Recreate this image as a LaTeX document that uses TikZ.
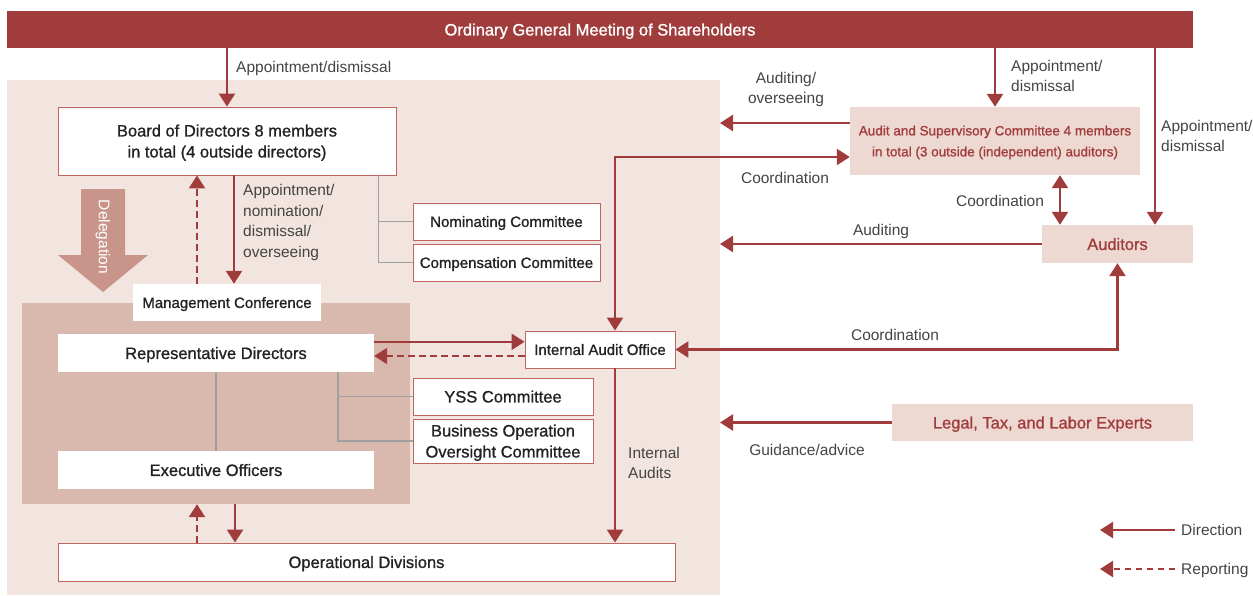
\documentclass[tikz,border=0pt]{standalone}
\usepackage{fontspec}
\setmainfont{Liberation Sans}
\newfontfamily\medfam[FakeBold=1.0]{Liberation Sans}
\usetikzlibrary{arrows.meta,calc}
\definecolor{dred}{HTML}{A03C3C}
\definecolor{bgpink}{HTML}{F2E4DF}
\definecolor{mgmtc}{HTML}{D9B9AE}
\definecolor{delegc}{HTML}{C9958A}
\definecolor{audfill}{HTML}{EDD9D1}
\definecolor{boxline}{HTML}{C06460}
\definecolor{grayline}{HTML}{A0A0A0}
\definecolor{txt}{HTML}{222222}
\definecolor{labc}{HTML}{444444}
\definecolor{redtxt}{HTML}{A23B3B}
\newcommand\bxfont{\medfam\fontsize{16.5}{21}\selectfont}
\newcommand\bxsfont{\medfam\fontsize{15}{20}\selectfont}
\newcommand\lbfont{\fontsize{15.5}{20.7}\selectfont}
\newcommand\ascfont{\medfam\fontsize{13.5}{21}\selectfont}
\begin{document}
\begin{tikzpicture}[x=1pt,y=-1pt,
 wbox/.style={draw=boxline,line width=0.9pt,fill=white,inner sep=0pt,align=center,text=txt,font=\bxfont,text depth=0pt},
 sbox/.style={wbox,font=\bxsfont},
 nbox/.style={fill=white,draw=none,inner sep=0pt,align=center,text=txt,font=\bxfont,text depth=0pt},
 rbox/.style={fill=audfill,draw=none,inner sep=0pt,align=center,text=redtxt,font=\bxfont,text depth=0pt},
 lab/.style={text=labc,font=\lbfont,inner sep=0pt,align=left,text depth=0pt},
 dir/.style={draw=dred,line width=2.4pt,-{Triangle[width=16pt,length=13pt]}},
 dirr/.style={dir,{Triangle[width=16pt,length=13pt]}-{Triangle[width=16pt,length=13pt]}},
 rpt/.style={dir,dash pattern=on 6.5pt off 4.5pt},
 tie/.style={draw=grayline,line width=1.5pt},
]
\useasboundingbox (0,0) rectangle (1253,595);
\clip (0,0) rectangle (1253,595);
% backgrounds
\fill[bgpink] (7,80) rectangle (720,595);
\coordinate (bgne) at (720,80);
\node[fill=mgmtc,minimum width=388pt,minimum height=201pt,inner sep=0pt] (mgmt) at (216,403.5) {};
% delegation arrow
\fill[delegc] (81,189) -- (125,189) -- (125,255) -- (148,255) -- (103,292) -- (58,255) -- (81,255) -- cycle;
\node[rotate=-90,text=white,font=\lbfont,inner sep=0pt] (deleg) at (103,237) {Delegation};
% top bar
\node[fill=dred,text=white,font=\bxfont,minimum width=1186pt,minimum height=37pt,inner sep=0pt,text depth=0pt] (gm) at (600,29.5) {Ordinary General Meeting of Shareholders};
% boxes
\node[wbox,minimum width=338pt,minimum height=68pt] (board) at (227,141) {Board of Directors 8 members\\in total (4 outside directors)};
\node[sbox,minimum width=187pt,minimum height=37pt] (nom) at (506.5,221.5) {Nominating Committee};
\node[sbox,minimum width=187pt,minimum height=37pt] (comp) at (506.5,262.5) {Compensation Committee};
\node[nbox,font=\bxsfont,minimum width=188pt,minimum height=37pt] (mc) at (227,302.5) {Management Conference};
\node[nbox,minimum width=316pt,minimum height=38pt] (rep) at (216,353) {Representative Directors};
\node[nbox,minimum width=316pt,minimum height=38pt] (exec) at (216,470) {Executive Officers};
\node[wbox,minimum width=180pt,minimum height=37pt] (yss) at (503,396.5) {YSS Committee};
\node[wbox,minimum width=180pt,minimum height=44pt] (boc) at (503,441) {Business Operation\\Oversight Committee};
\node[sbox,minimum width=150pt,minimum height=37pt] (iao) at (600,349.5) {Internal Audit Office};
\node[wbox,minimum width=617pt,minimum height=38pt] (ops) at (366.5,562) {Operational Divisions};
\node[rbox,font=\ascfont,minimum width=290pt,minimum height=68pt] (asc) at (995,141) {Audit and Supervisory Committee 4 members\\in total (3 outside (independent) auditors)};
\node[rbox,minimum width=151pt,minimum height=38pt] (aud) at (1117.5,244) {Auditors};
\node[rbox,minimum width=301pt,minimum height=37pt] (legal) at (1042.5,422.5) {Legal, Tax, and Labor Experts};
% gray ties
\coordinate (t1) at ($(board.south east)+(-18,0)$);
\draw[tie] (t1) |- (comp.west);
\draw[tie] (t1 |- nom.west) -- (nom.west);
\draw[tie] (rep.south) -- (exec.north);
\coordinate (t2) at ($(rep.south east)+(-36,0)$);
\draw[tie] (t2) |- (boc.west);
\draw[tie] (t2 |- yss.west) -- (yss.west);
% arrows left side
\draw[dir] (board.north |- gm.south) -- (board.north);
\coordinate (mcL) at ($(mc.north)+(-30,0)$);
\coordinate (mcR) at ($(mc.north)+(7,0)$);
\draw[rpt] (mcL) -- (mcL |- board.south);
\draw[dir] (mcR |- board.south) -- (mcR);
\coordinate (r1) at ($(rep.north east)+(0,8)$);
\coordinate (r2) at ($(rep.east)+(0,3)$);
\draw[dir] (r1) -- (r1 -| iao.west);
\draw[rpt] (r2 -| iao.west) -- (r2);
\coordinate (oL) at ($(mgmt.south)+(-19,0)$);
\coordinate (oR) at ($(mgmt.south)+(19,0)$);
\draw[rpt] (oL |- ops.north) -- (oL);
\draw[dir] (oR) -- (oR |- ops.north);
\coordinate (c1) at ($(asc.west)+(0,16)$);
\coordinate (c2) at ($(iao.north)+(15,0)$);
\draw[dirr] (c2) |- (c1);
\draw[dir] (c2 |- iao.south) -- (c2 |- ops.north);
% arrows right side
\draw[dir] (asc.north |- gm.south) -- (asc.north);
\coordinate (audin) at ($(aud.north)+(37.5,0)$);
\draw[dir] (audin |- gm.south) -- (audin);
\coordinate (c3) at ($(asc.west)+(0,-18)$);
\draw[dir] (c3) -- (c3 -| bgne);
\coordinate (c4) at ($(aud.north)+(-57.5,0)$);
\draw[dirr] (c4 |- asc.south) -- (c4);
\draw[dir] (aud.west) -- (aud.west -| bgne);
\draw[dirr] (iao.east) -| (aud.south);
\draw[dir] (legal.west) -- (legal.west -| bgne);
% labels
\node[lab,anchor=west] (l1) at (236,67) {Appointment/dismissal};
\node[lab,anchor=north west] (l2) at (243,184) {Appointment/\\nomination/\\dismissal/\\overseeing};
\node[lab,align=center] (l3) at (786,88) {Auditing/\\overseeing};
\node[lab,anchor=west] (l4) at (1011,76) {Appointment/\\dismissal};
\node[lab,anchor=west] (l5) at (1161,136) {Appointment/\\dismissal};
\node[lab] (l6) at (785,178) {Coordination};
\node[lab] (l7) at (1000,201) {Coordination};
\node[lab] (l8) at (881,230) {Auditing};
\node[lab] (l9) at (895,335) {Coordination};
\node[lab] (l10) at (807,450) {Guidance/advice};
\node[lab,anchor=west] (l11) at (628,463) {Internal\\Audits};
% legend
\coordinate (lg1a) at (1175,530);
\coordinate (lg1b) at (1100,530);
\coordinate (lg2a) at (1175,569);
\coordinate (lg2b) at (1100,569);
\draw[dir] (lg1a) -- (lg1b);
\draw[rpt] (lg2a) -- (lg2b);
\node[lab,anchor=west] (lgd) at (1181,530) {Direction};
\node[lab,anchor=west] (lgr) at (1181,569) {Reporting};
\end{tikzpicture}
\end{document}
